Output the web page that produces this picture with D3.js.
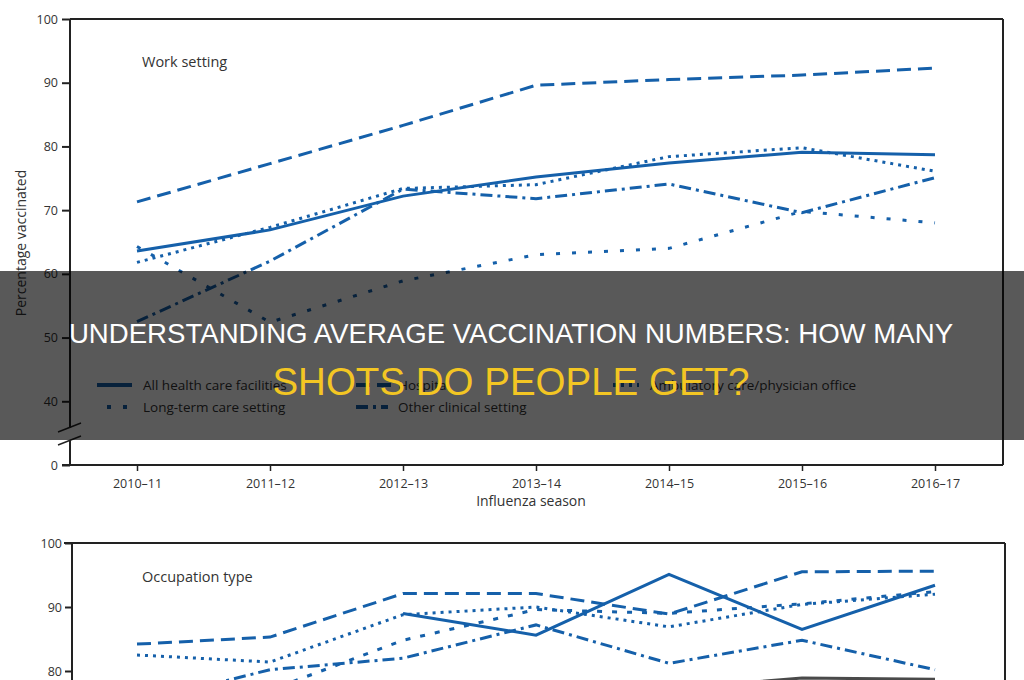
<!DOCTYPE html>
<html>
<head>
<meta charset="utf-8">
<script src="https://cdn.jsdelivr.net/npm/d3@7"></script>
<style>
  html, body { margin: 0; padding: 0; background: #fff; }
  svg { display: block; }
  text { font-family: "Open Sans", "Noto Sans", sans-serif; fill: #333; }
</style>
</head>
<body>
<svg id="chart" width="1024" height="680"></svg>
<script>
// ---------- DATA ----------
const seasons = ["2010–11", "2011–12", "2012–13", "2013–14", "2014–15", "2015–16", "2016–17"];

// Work setting (top panel)
const workNames = ["All health care facilities", "Hospital", "Ambulatory care/physician office", "Long-term care setting", "Other clinical setting"];
const allFacilities = [63.6, 66.9, 72.2, 75.2, 77.4, 79.1, 78.7];
const hospital      = [71.3, 77.3, 83.3, 89.6, 90.5, 91.2, 92.3];
const ambulatory    = [61.8, 67.3, 73.4, 74.0, 78.4, 79.8, 76.1];
const longTermCare  = [64.3, 52.4, 58.9, 63.0, 64.0, 69.8, 68.0];
const otherClinical = [52.5, 62.0, 73.3, 71.8, 74.1, 69.6, 75.1];

// Occupation type (bottom panel, cut off by the frame)
const occNames = ["Physician", "Nurse practitioner/physician assistant", "Nurse", "Pharmacist", "Other clinical personnel", "Assistant/aide"];
const physician   = [84.2, 85.3, 92.1, 92.1, 88.9, 95.5, 95.6];
const npPa        = [null, null, 89.0, 85.6, 95.1, 86.5, 93.4];
const nurse       = [82.5, 81.4, 88.8, 90.0, 86.9, 90.4, 92.0];
const pharmacist  = [70.0, 77.0, 84.8, 89.6, 89.0, 90.5, 92.4];
const otherClinOcc= [75.0, 80.2, 82.0, 87.2, 81.2, 84.8, 80.2];
const aide        = [null, null, null, 76.0, 77.2, 78.9, 78.7];

const topTicks = [30, 40, 50, 60, 70, 80, 90, 100];   // 30 is drawn as the broken-axis "0"
const topTickLabels = ["0", "40", "50", "60", "70", "80", "90", "100"];
const botTicks = [80, 90, 100];

const bannerLine1 = "UNDERSTANDING AVERAGE VACCINATION NUMBERS: HOW MANY";
const bannerLine2 = "SHOTS DO PEOPLE GET?";

// ---------- STYLE ----------
const BLUE = "#1560aa";
const dashSolid = null, dashLong = "14,7", dashDot = "3,5", dashSparse = "4,12", dashDashDot = "12,5,3,5", dashSparse2 = "5,10";

const workSeries = [
  { name: workNames[0], values: allFacilities, dash: dashSolid },
  { name: workNames[1], values: hospital, dash: dashLong },
  { name: workNames[2], values: ambulatory, dash: dashDot },
  { name: workNames[3], values: longTermCare, dash: dashSparse },
  { name: workNames[4], values: otherClinical, dash: dashDashDot }
];
const occSeries = [
  { name: occNames[5], values: aide, dash: dashSolid, color: "#4a4a4a" },
  { name: occNames[0], values: physician, dash: dashLong },
  { name: occNames[2], values: nurse, dash: dashDot },
  { name: occNames[3], values: pharmacist, dash: dashSparse2 },
  { name: occNames[4], values: otherClinOcc, dash: dashDashDot },
  { name: occNames[1], values: npPa, dash: dashSolid }
];

const svg = d3.select("#chart");

// ---------- SCALES ----------
const x = d3.scalePoint().domain(seasons).range([137, 935]);
const yTop = d3.scaleLinear().domain([30, 100]).range([465, 19]);
const yBot = d3.scaleLinear().domain([80, 100]).range([671, 543]);

// ---------- TOP PANEL ----------
const gTop = svg.append("g");

// frame
gTop.append("line").attr("x1", 70).attr("x2", 1003).attr("y1", yTop(100)).attr("y2", yTop(100)).attr("stroke", "#222").attr("stroke-width", 2);
gTop.append("line").attr("x1", 1003).attr("x2", 1003).attr("y1", yTop(100)).attr("y2", yTop(30)).attr("stroke", "#222").attr("stroke-width", 2);
// y axis with break
gTop.append("line").attr("x1", 70).attr("x2", 70).attr("y1", yTop(100)).attr("y2", 428).attr("stroke", "#222").attr("stroke-width", 2);
gTop.append("line").attr("x1", 70).attr("x2", 70).attr("y1", 440).attr("y2", yTop(30)).attr("stroke", "#222").attr("stroke-width", 2);
gTop.append("line").attr("x1", 58).attr("x2", 81).attr("y1", 432).attr("y2", 423).attr("stroke", "#222").attr("stroke-width", 1.5);
gTop.append("line").attr("x1", 58).attr("x2", 81).attr("y1", 445).attr("y2", 436).attr("stroke", "#222").attr("stroke-width", 1.5);
// x axis line
gTop.append("line").attr("x1", 62).attr("x2", 1003).attr("y1", yTop(30)).attr("y2", yTop(30)).attr("stroke", "#222").attr("stroke-width", 2);

const yAxisTop = gTop.append("g").attr("transform", "translate(70,0)")
  .call(d3.axisLeft(yTop).tickValues(topTicks).tickFormat((d, i) => topTickLabels[i]).tickSize(8).tickPadding(4));
yAxisTop.select(".domain").remove();
yAxisTop.selectAll(".tick line").attr("stroke", "#222").attr("stroke-width", 2);
yAxisTop.selectAll(".tick text").attr("font-size", 12.5).attr("fill", "#333").attr("font-family", "'Open Sans', sans-serif");

const xAxisTop = gTop.append("g").attr("transform", `translate(0,${yTop(30)})`)
  .call(d3.axisBottom(x).tickSize(6).tickPadding(8));
xAxisTop.select(".domain").remove();
xAxisTop.selectAll(".tick line").attr("stroke", "#222").attr("stroke-width", 1.5);
xAxisTop.selectAll(".tick text").attr("font-size", 12.5).attr("fill", "#333").attr("font-family", "'Open Sans', sans-serif");

gTop.append("text").attr("x", 531).attr("y", 506).attr("text-anchor", "middle").attr("font-size", 14).text("Influenza season");
gTop.append("text").attr("transform", "translate(26,243) rotate(-90)").attr("text-anchor", "middle").attr("font-size", 14).text("Percentage vaccinated");
gTop.append("text").attr("x", 142).attr("y", 67).attr("font-size", 14.5).text("Work setting");

const lineTop = d3.line().defined(d => d.v != null).x(d => x(d.s)).y(d => yTop(d.v));
gTop.selectAll("path.series").data(workSeries).join("path")
  .attr("class", "series")
  .attr("d", d => lineTop(d.values.map((v, i) => ({ s: seasons[i], v }))))
  .attr("fill", "none").attr("stroke", BLUE).attr("stroke-width", 3)
  .attr("stroke-dasharray", d => d.dash);

// legend
const legendPos = [
  { x: 97, y: 385, tx: 143 }, { x: 356, y: 385, tx: 398 }, { x: 613, y: 385, tx: 650 },
  { x: 107, y: 407, tx: 143 }, { x: 356, y: 407, tx: 398 }
];
const legendLen = [35, 36, 26, 24, 32];
const lg = gTop.selectAll("g.legend").data(workSeries).join("g").attr("class", "legend");
lg.append("line")
  .attr("x1", (d, i) => legendPos[i].x).attr("x2", (d, i) => legendPos[i].x + legendLen[i])
  .attr("y1", (d, i) => legendPos[i].y).attr("y2", (d, i) => legendPos[i].y)
  .attr("stroke", BLUE).attr("stroke-width", 4).attr("stroke-dasharray", d => d.dash);
lg.append("text")
  .attr("x", (d, i) => legendPos[i].tx).attr("y", (d, i) => legendPos[i].y + 5)
  .attr("font-size", 13.5).text(d => d.name);

// ---------- BOTTOM PANEL ----------
const gBot = svg.append("g");
gBot.append("line").attr("x1", 64).attr("x2", 1005).attr("y1", yBot(100)).attr("y2", yBot(100)).attr("stroke", "#222").attr("stroke-width", 2);
gBot.append("line").attr("x1", 72).attr("x2", 72).attr("y1", yBot(100)).attr("y2", 690).attr("stroke", "#222").attr("stroke-width", 2);
gBot.append("line").attr("x1", 1005).attr("x2", 1005).attr("y1", yBot(100)).attr("y2", 690).attr("stroke", "#222").attr("stroke-width", 2);
const yAxisBot = gBot.append("g").attr("transform", "translate(72,0)")
  .call(d3.axisLeft(yBot).tickValues(botTicks).tickSize(7).tickPadding(3));
yAxisBot.select(".domain").remove();
yAxisBot.selectAll(".tick line").attr("stroke", "#222").attr("stroke-width", 2);
yAxisBot.selectAll(".tick text").attr("font-size", 12.5).attr("fill", "#333").attr("font-family", "'Open Sans', sans-serif");
gBot.append("text").attr("x", 142).attr("y", 582).attr("font-size", 14.5).text("Occupation type");

const lineBot = d3.line().defined(d => d.v != null).x(d => x(d.s)).y(d => yBot(d.v));
gBot.selectAll("path.series").data(occSeries).join("path")
  .attr("class", "series")
  .attr("d", d => lineBot(d.values.map((v, i) => ({ s: seasons[i], v }))))
  .attr("fill", "none").attr("stroke", d => d.color || BLUE).attr("stroke-width", 3)
  .attr("stroke-dasharray", d => d.dash);

// ---------- BANNER ----------
svg.append("rect").attr("x", 0).attr("y", 271).attr("width", 1024).attr("height", 169).attr("fill", "rgba(0,0,0,0.65)");
svg.append("text").attr("x", 511).attr("y", 343).attr("text-anchor", "middle")
  .style("font-family", "'Liberation Sans', Arial, sans-serif").style("fill", "#ffffff")
  .attr("font-size", 27.6).text(bannerLine1);
svg.append("text").attr("x", 511).attr("y", 395).attr("text-anchor", "middle")
  .style("font-family", "'Liberation Sans', Arial, sans-serif").style("fill", "#f3c623")
  .attr("font-size", 38.5).text(bannerLine2);
</script>
</body>
</html>
